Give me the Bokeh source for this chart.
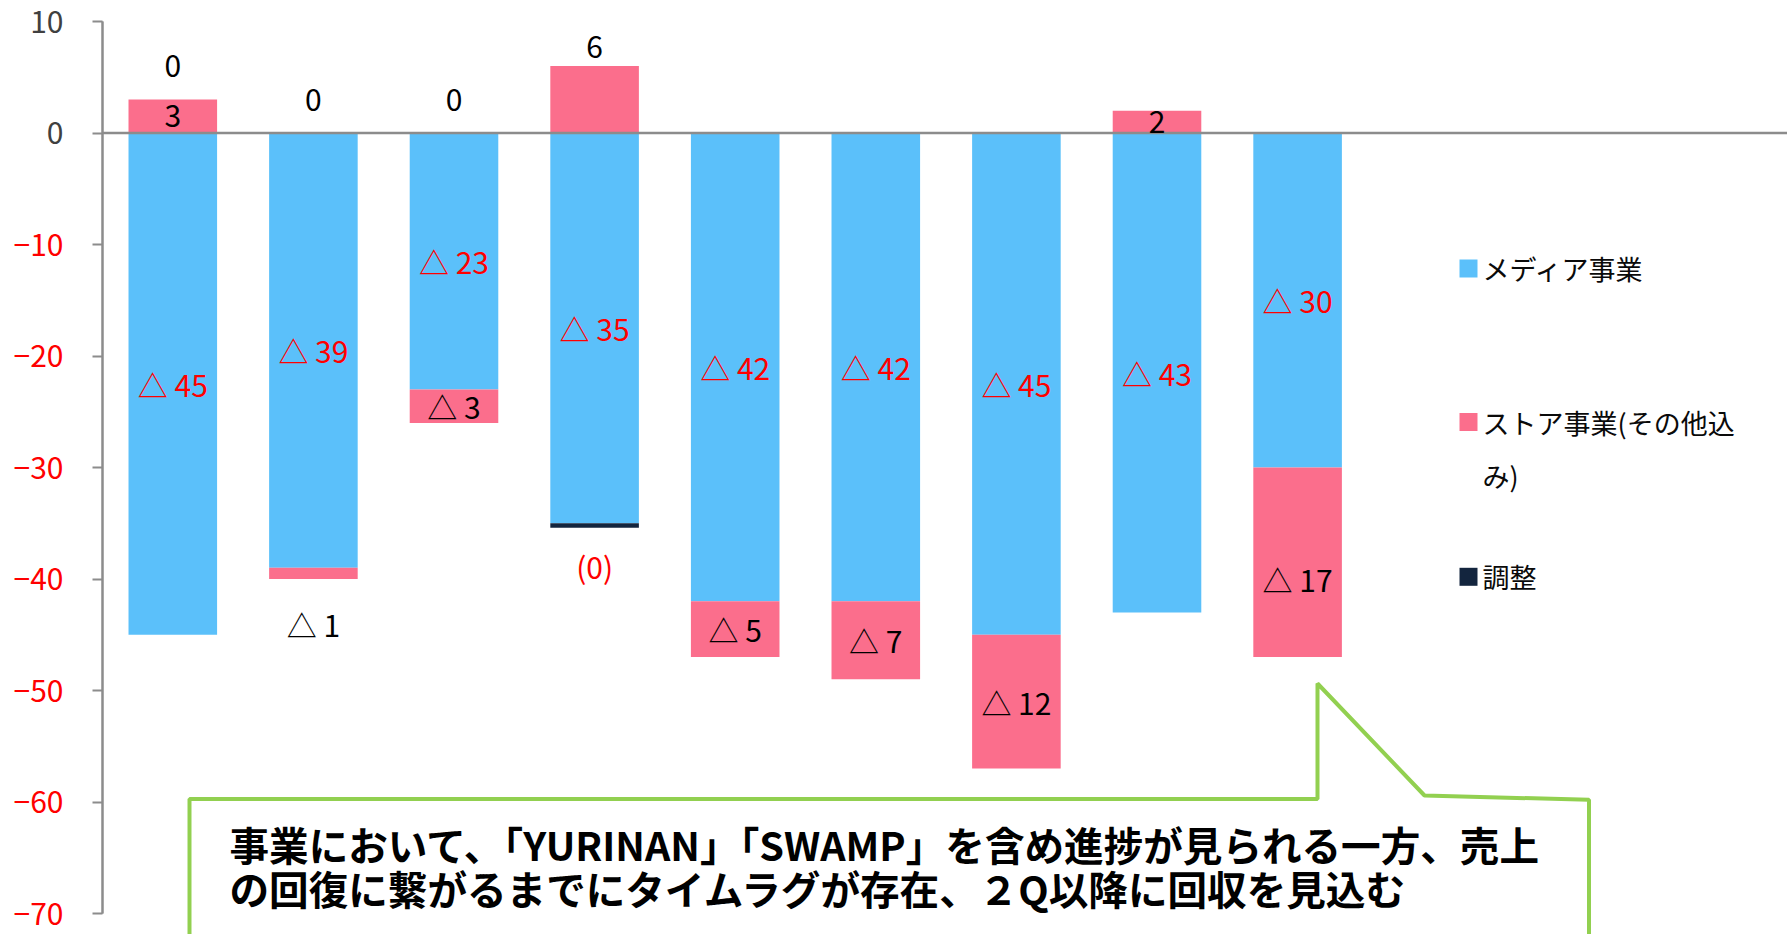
from bokeh.plotting import figure
from bokeh.models import (Range1d, FixedTicker, ColumnDataSource, LabelSet,
                          Label, PolyAnnotation, LinearAxis)
from bokeh.core.properties import value
from bokeh.embed import file_html
from bokeh.resources import INLINE

# ---------------- data ----------------
categories = ["1", "2", "3", "4", "5", "6", "7", "8", "9"]
media = [-45, -39, -23, -35, -42, -42, -45, -43, -30]
store = [3, -1, -3, 6, -5, -7, -12, 2, -17]
adjust = [0, 0, 0, -0.4, 0, 0, 0, 0, 0]
adjust_labels = ["0", "0", "0", "(0)", "", "", "", "", ""]
y_ticks_pos = [10, 0]
y_ticks_neg = [-10, -20, -30, -40, -50, -60, -70]
series_names = ["メディア事業", "ストア事業(その他込み)", "調整"]
callout_lines = ["事業において、「YURINAN」「SWAMP」を含め進捗が見られる一方、売上",
                 "の回復に繋がるまでにタイムラグが存在、２Q以降に回収を見込む"]

# ---------------- style ----------------
BLUE = "#5BC0FA"
PINK = "#FB6E8C"
NAVY = "#13253E"
RED = "#FF0000"
GRAY = "#8C8C8C"
FONT = "Noto Sans CJK JP"

W, H = 1787, 934
AXIS_PX, TOP_PX = 102, 21        # page position of x=-0.5 and y=10
SLOT = 140.6                     # px per category
UNIT = 11.15                     # px per y unit


def dx(px):   # page pixel -> data x
    return -0.5 + (px - AXIS_PX) / SLOT


def dy(py):   # page pixel -> data y
    return 10 - (py - TOP_PX) / UNIT


p = figure(width=W, height=H, output_backend="svg", toolbar_location=None,
           x_range=Range1d(dx(0), dx(W)), y_range=Range1d(dy(H), dy(0)),
           x_axis_type=None, y_axis_type=None, min_border_left=0, min_border_right=0,
           min_border_top=0, min_border_bottom=0)
p.outline_line_color = None
p.background_fill_color = "white"


def make_axis(ticks, color):
    a = LinearAxis(ticker=FixedTicker(ticks=ticks), fixed_location=-0.5, bounds=(-70, 10))
    a.axis_line_color = GRAY
    a.axis_line_width = 2
    a.major_tick_line_color = GRAY
    a.major_tick_line_width = 2
    a.major_tick_out = 10
    a.major_tick_in = 0
    a.minor_tick_line_color = None
    a.major_label_standoff = 29
    a.major_label_text_font = FONT
    a.major_label_text_font_size = "30px"
    a.major_label_text_color = color
    return a


p.add_layout(make_axis(y_ticks_neg, RED), "left")
p.add_layout(make_axis(y_ticks_pos, "#404040"), "left")

xs = list(range(len(categories)))
bw = 0.63

# media bars
p.vbar(x=xs, top=[0] * len(xs), bottom=media, width=bw, fill_color=BLUE, line_color=None)

# store bars (stacked on the same side as their sign)
s_bottom, s_top = [], []
for m, s in zip(media, store):
    if s >= 0:
        s_bottom.append(0); s_top.append(s)
    else:
        s_bottom.append(m + s); s_top.append(m)
p.vbar(x=xs, top=s_top, bottom=s_bottom, width=bw, fill_color=PINK, line_color=None)

# adjustment bars
a_x, a_top, a_bot = [], [], []
for i, (m, s, a) in enumerate(zip(media, store, adjust)):
    if a != 0:
        base = m + min(s, 0)
        a_x.append(i); a_top.append(base); a_bot.append(base + a)
p.vbar(x=a_x, top=a_top, bottom=a_bot, width=bw, fill_color=NAVY, line_color=None)

# zero line (category axis)
p.segment(x0=[-0.5], y0=[0], x1=[dx(W)], y1=[0], line_color=GRAY, line_width=2.5)

# ---------------- data labels ----------------
def tri(v):
    return f"△ {abs(v)}" if v < 0 else f"{v}"

lx, ly, lt, lc = [], [], [], []
for i, m in enumerate(media):
    lx.append(i); ly.append(m / 2); lt.append(tri(m)); lc.append(RED)

outside = {1: -4.0, 3: 1.7}   # store labels placed outside the bar end
nudge = {8: -1.5}             # small manual label nudges (data units)
for i, s in enumerate(store):
    if i in outside:
        end = s_bottom[i] if s < 0 else s_top[i]
        y = end + outside[i]
    else:
        y = (s_bottom[i] + s_top[i]) / 2 + nudge.get(i, 0)
    lx.append(i); ly.append(y); lt.append(tri(s)); lc.append("#000000")

for i, (txt, a) in enumerate(zip(adjust_labels, adjust)):
    if not txt:
        continue
    if a < 0:
        y = media[i] + min(store[i], 0) + a - 3.4
        col = RED
    else:
        y = max(store[i], 0) + 3.0
        col = "#000000"
    lx.append(i); ly.append(y); lt.append(txt); lc.append(col)

p.add_layout(LabelSet(source=ColumnDataSource(dict(x=lx, y=ly, t=lt, c=lc)),
                      x="x", y="y", text="t", text_color="c", text_align="center",
                      text_baseline="middle", text_font=value(FONT),
                      text_font_size=value("30px")))

# ---------------- legend (drawn by hand to allow wrapping) ----------------
leg_x = dx(1468)
leg_y = [dy(268), dy(421.5), dy(576.3)]
leg_cols = [BLUE, PINK, NAVY]
p.scatter(x=[leg_x] * 3, y=leg_y, marker="square", size=18, fill_color=leg_cols, line_color=None)
wrapped = [series_names[0], series_names[1][:10], series_names[2]]
for y, t in zip(leg_y, wrapped):
    p.add_layout(Label(x=leg_x, y=y, text=t, x_offset=14, text_baseline="middle",
                       text_font=FONT, text_font_size="27px", text_color="#0A0A0A"))
p.add_layout(Label(x=leg_x, y=dy(475), text=series_names[1][10:], x_offset=14,
                   text_baseline="middle", text_font=FONT, text_font_size="27px",
                   text_color="#0A0A0A"))

# ---------------- callout ----------------
cx = [dx(189), dx(1317), dx(1317), dx(1424), dx(1588.5), dx(1588.5), dx(189)]
cy = [dy(798.5), dy(798.5), dy(683), dy(795), dy(799.3), dy(960), dy(960)]
p.add_layout(PolyAnnotation(xs=cx, ys=cy, fill_color="white", fill_alpha=1.0,
                            line_color="#92D050", line_alpha=1.0, line_width=4))
for py, t in zip([843, 887], callout_lines):
    p.add_layout(Label(x=dx(229), y=dy(py), text=t, text_baseline="middle",
                       text_font=FONT, text_font_size="39.6px", text_font_style="bold",
                       text_color="#000000"))

open("out.html", "w").write(file_html(p, INLINE))
